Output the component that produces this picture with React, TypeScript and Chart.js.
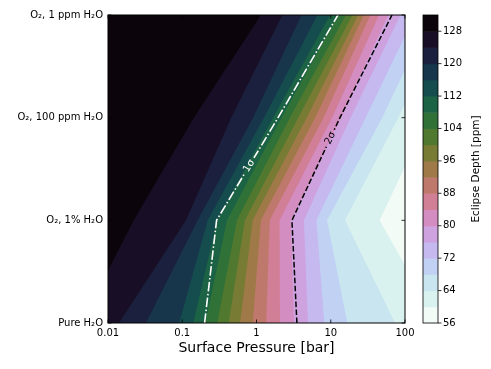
import React, { useEffect, useRef } from "react";
import { Chart, registerables } from "chart.js";

Chart.register(...registerables);

// ---- data ----
const pressures = [0.01, 0.0178, 0.0316, 0.0562, 0.1, 0.178, 0.316, 0.562, 1, 1.78, 3.16, 5.62, 10, 17.8, 31.6, 56.2, 100];
const compositions = ["Pure H₂O", "O₂, 1% H₂O", "O₂, 100 ppm H₂O", "O₂, 1 ppm H₂O"];
const depthPureH2O = [125.6, 122.9, 120.1, 118.0, 115.6, 109.5, 103.3, 96.7, 90.8, 85.4, 80.1, 74.8, 70.5, 67.7, 66.2, 64.7, 63.2];
const depthO2_1pct = [130.3, 128.5, 127.2, 126.2, 125.3, 118.9, 111.1, 103.6, 94.0, 85.6, 79.0, 73.6, 66.6, 63.2, 61.2, 59.3, 57.5];
const depthO2_100ppm = [131.0, 130.4, 129.8, 129.1, 128.5, 127.7, 125.6, 123.1, 119.3, 111.1, 102.2, 93.4, 84.6, 76.3, 71.4, 67.0, 62.3];
const depthO2_1ppm = [131.6, 131.3, 131.0, 130.6, 130.3, 130.0, 129.6, 129.2, 128.8, 125.5, 121.7, 117.7, 111.8, 102.2, 89.2, 80.6, 74.5];
const levels = [56, 60, 64, 68, 72, 76, 80, 84, 88, 92, 96, 100, 104, 108, 112, 116, 120, 124, 128, 132];
const colorbarTicks = [56, 64, 72, 80, 88, 96, 104, 112, 120, 128];
const xTickValues = [0.01, 0.1, 1, 10, 100];
const xTickLabels = ["0.01", "0.1", "1", "10", "100"];
const sigmaRows = [0, 1, 2, 3];
const sigma1Pressure = [0.2, 0.29, 1.95, 12.5];
const sigma2Pressure = [3.5, 3.0, 13.3, 66.8];
const sigmaLabels = ["1σ", "2σ"];
const sigmaLabelRow = [1.53, 1.8];
const sigmaColors = ["#ffffff", "#000000"];

const FONT = "'DejaVu Sans', 'Liberation Sans', sans-serif";
const rowsData = [depthPureH2O, depthO2_1pct, depthO2_100ppm, depthO2_1ppm];

function cubehelix(x: number): [number, number, number] {
  const gamma = 1, s = 0.5, r = -1.5, h = 1.0;
  const xg = Math.pow(x, gamma);
  const a = (h * xg * (1 - xg)) / 2;
  const phi = 2 * Math.PI * (s / 3 + r * x);
  const c = Math.cos(phi), sn = Math.sin(phi);
  const R = xg + a * (-0.14861 * c + 1.78277 * sn);
  const G = xg + a * (-0.29227 * c - 0.90649 * sn);
  const B = xg + a * (1.97294 * c);
  const cl = (v: number) => Math.round(Math.max(0, Math.min(1, v)) * 255);
  return [cl(R), cl(G), cl(B)];
}

const vmin = levels[0];
const vmax = levels[levels.length - 1];
const bandColors: string[] = levels.slice(0, -1).map((lv, i) => {
  const mid = (lv + levels[i + 1]) / 2;
  const t = (mid - vmin) / (vmax - vmin);
  const c = cubehelix(1 - t);
  return `rgb(${c[0]},${c[1]},${c[2]})`;
});

// filled contours: superlevel sets stacked low -> high; each band between two
// composition rows is contoured as one cell whose long edges follow the rows.
const contourPlugin = {
  id: "contourFill",
  beforeDatasetsDraw(chart: any) {
    const { ctx, chartArea, scales } = chart;
    const { left, top, right, bottom } = chartArea;
    const px = pressures.map((p) => scales.x.getPixelForValue(p));
    const py = rowsData.map((_r, i) => scales.y.getPixelForValue(i));
    const n = pressures.length;
    ctx.save();
    ctx.beginPath();
    ctx.rect(left, top, right - left, bottom - top);
    ctx.clip();
    for (let k = 0; k < levels.length - 1; k++) {
      const L = levels[k];
      const path = new Path2D();
      for (let r = 0; r < rowsData.length - 1; r++) {
        const perim: { x: number; y: number; v: number }[] = [];
        for (let i = 0; i < n; i++) perim.push({ x: px[i], y: py[r], v: rowsData[r][i] });
        for (let i = n - 1; i >= 0; i--) perim.push({ x: px[i], y: py[r + 1], v: rowsData[r + 1][i] });
        const pts: { x: number; y: number }[] = [];
        for (let e = 0; e < perim.length; e++) {
          const A = perim[e], B = perim[(e + 1) % perim.length];
          const inA = A.v >= L, inB = B.v >= L;
          if (inA) pts.push({ x: A.x, y: A.y });
          if (inA !== inB) {
            const t = (L - A.v) / (B.v - A.v);
            pts.push({ x: A.x + (B.x - A.x) * t, y: A.y + (B.y - A.y) * t });
          }
        }
        if (pts.length >= 3) {
          path.moveTo(pts[0].x, pts[0].y);
          for (let q = 1; q < pts.length; q++) path.lineTo(pts[q].x, pts[q].y);
          path.closePath();
        }
      }
      ctx.fillStyle = bandColors[k];
      ctx.fill(path, "nonzero");
    }
    ctx.restore();
  },
};

function labelGeom(chart: any, d: number) {
  const meta = chart.getDatasetMeta(d);
  const pts = meta.data;
  const row = sigmaLabelRow[d];
  const k = Math.min(pts.length - 2, Math.floor(row));
  const f = row - k;
  const p0 = pts[k], p1 = pts[k + 1];
  const x = p0.x + (p1.x - p0.x) * f;
  const y = p0.y + (p1.y - p0.y) * f;
  const ang = Math.atan2(p1.y - p0.y, p1.x - p0.x);
  return { x, y, ang };
}

const sigmaLabelPlugin = {
  id: "sigmaLabels",
  beforeDatasetDraw(chart: any, args: any) {
    const d = args.index;
    const ctx = chart.ctx;
    const g = labelGeom(chart, d);
    ctx.save();
    ctx.font = `10px ${FONT}`;
    const tw = ctx.measureText(sigmaLabels[d]).width;
    const hw = tw / 2 + 3, hh = 7;
    const cs = Math.cos(g.ang), sn = Math.sin(g.ang);
    const corner = (u: number, v: number) => [g.x + u * cs - v * sn, g.y + u * sn + v * cs];
    ctx.beginPath();
    ctx.rect(0, 0, chart.width, chart.height);
    const c1 = corner(-hw, -hh), c2 = corner(hw, -hh), c3 = corner(hw, hh), c4 = corner(-hw, hh);
    ctx.moveTo(c1[0], c1[1]); ctx.lineTo(c2[0], c2[1]); ctx.lineTo(c3[0], c3[1]); ctx.lineTo(c4[0], c4[1]); ctx.closePath();
    ctx.clip("evenodd");
  },
  afterDatasetDraw(chart: any) {
    chart.ctx.restore();
  },
  afterDatasetsDraw(chart: any) {
    const ctx = chart.ctx;
    sigmaLabels.forEach((txt, d) => {
      const g = labelGeom(chart, d);
      ctx.save();
      ctx.translate(g.x, g.y);
      ctx.rotate(g.ang);
      ctx.font = `10px ${FONT}`;
      ctx.fillStyle = sigmaColors[d];
      ctx.textAlign = "center";
      ctx.textBaseline = "middle";
      ctx.fillText(txt, 0, 0);
      ctx.restore();
    });
  },
};

const framePlugin = {
  id: "frameAndColorbar",
  afterDraw(chart: any) {
    const { ctx, chartArea, scales } = chart;
    const { left, top, right, bottom } = chartArea;
    ctx.save();
    ctx.strokeStyle = "#000";
    ctx.lineWidth = 1;
    ctx.strokeRect(left, top, right - left, bottom - top);
    ctx.lineWidth = 0.8;
    const tl = 3.5;
    ctx.beginPath();
    scales.x.ticks.forEach((t: any) => {
      const p = scales.x.getPixelForValue(t.value);
      ctx.moveTo(p, bottom); ctx.lineTo(p, bottom - tl);
      ctx.moveTo(p, top); ctx.lineTo(p, top + tl);
    });
    scales.y.ticks.forEach((t: any) => {
      const p = scales.y.getPixelForValue(t.value);
      ctx.moveTo(left, p); ctx.lineTo(left + tl, p);
      ctx.moveTo(right, p); ctx.lineTo(right - tl, p);
    });
    ctx.stroke();

    // colorbar
    const cx0 = right + 18, cx1 = right + 33;
    const vy = (v: number) => bottom - ((v - vmin) / (vmax - vmin)) * (bottom - top);
    bandColors.forEach((c, i) => {
      const y0 = vy(levels[i + 1]), y1 = vy(levels[i]);
      ctx.fillStyle = c;
      ctx.fillRect(cx0, y0, cx1 - cx0, y1 - y0 + 0.5);
    });
    ctx.strokeStyle = "#000";
    ctx.lineWidth = 0.8;
    ctx.strokeRect(cx0, top, cx1 - cx0, bottom - top);
    ctx.beginPath();
    colorbarTicks.forEach((v) => {
      ctx.moveTo(cx1, vy(v)); ctx.lineTo(cx1 + 3.5, vy(v));
    });
    ctx.stroke();
    ctx.fillStyle = "#000";
    ctx.font = `10px ${FONT}`;
    ctx.textAlign = "left";
    ctx.textBaseline = "middle";
    colorbarTicks.forEach((v) => ctx.fillText(String(v), cx1 + 5, vy(v)));
    ctx.save();
    ctx.translate(cx1 + 38, (top + bottom) / 2);
    ctx.rotate(-Math.PI / 2);
    ctx.textAlign = "center";
    ctx.textBaseline = "middle";
    ctx.font = `10.5px ${FONT}`;
    ctx.fillText("Eclipse Depth [ppm]", 0, 0);
    ctx.restore();
    ctx.restore();
  },
};

export default function App() {
  const ref = useRef<HTMLCanvasElement | null>(null);
  useEffect(() => {
    if (!ref.current) return;
    const mkData = (arr: number[]) => arr.map((p, i) => ({ x: p, y: sigmaRows[i] }));
    const chart = new Chart(ref.current, {
      type: "line",
      data: {
        datasets: [
          {
            label: sigmaLabels[0],
            data: mkData(sigma1Pressure),
            borderColor: sigmaColors[0],
            borderWidth: 1.6,
            borderDash: [9.6, 2.4, 1.5, 2.4],
            pointRadius: 0,
            fill: false,
            tension: 0,
          },
          {
            label: sigmaLabels[1],
            data: mkData(sigma2Pressure),
            borderColor: sigmaColors[1],
            borderWidth: 1.5,
            borderDash: [5.55, 2.4],
            pointRadius: 0,
            fill: false,
            tension: 0,
          },
        ],
      },
      options: {
        animation: false,
        responsive: false,
        events: [],
        layout: { padding: { left: 0, top: 15, right: 86, bottom: 0 } },
        plugins: { legend: { display: false }, tooltip: { enabled: false } },
        scales: {
          x: {
            type: "logarithmic",
            min: 0.01,
            max: 100,
            position: "bottom",
            afterBuildTicks: (s: any) => {
              s.ticks = xTickValues.map((v) => ({ value: v }));
            },
            afterFit: (s: any) => {
              s.height = 46;
            },
            ticks: {
              autoSkip: false,
              maxRotation: 0,
              padding: 4,
              color: "#000",
              font: { family: FONT, size: 10 },
              callback: (_v: any, i: number) => xTickLabels[i],
            },
            grid: { display: false, drawTicks: false },
            border: { display: false },
            title: {
              display: true,
              text: "Surface Pressure [bar]",
              color: "#000",
              font: { family: FONT, size: 14 },
              padding: { top: 0, bottom: 12 },
            },
          },
          y: {
            type: "linear",
            min: 0,
            max: compositions.length - 1,
            afterBuildTicks: (s: any) => {
              s.ticks = compositions.map((_c, i) => ({ value: i }));
            },
            afterFit: (s: any) => {
              s.width = 108;
            },
            ticks: {
              autoSkip: false,
              padding: 5,
              color: "#000",
              font: { family: FONT, size: 10 },
              callback: (_v: any, i: number) => compositions[i],
            },
            grid: { display: false, drawTicks: false },
            border: { display: false },
          },
        },
      } as any,
      plugins: [contourPlugin, sigmaLabelPlugin, framePlugin],
    });
    return () => chart.destroy();
  }, []);
  return (
    <div style={{ position: "fixed", left: 0, top: 0, width: 491, height: 369, background: "#fff" }}>
      <canvas ref={ref} width={491} height={369} style={{ display: "block" }} />
    </div>
  );
}
